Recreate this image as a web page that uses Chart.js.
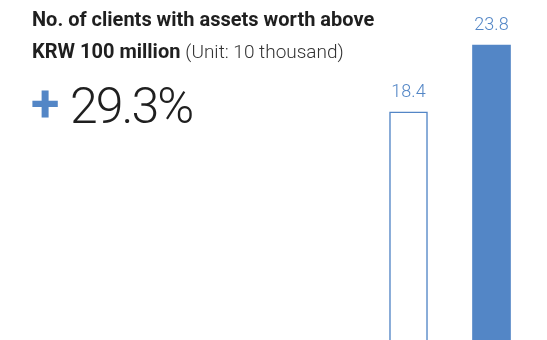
<!DOCTYPE html>
<html>
<head>
<meta charset="utf-8">
<script src="https://cdn.jsdelivr.net/npm/chart.js@4"></script>
<style>
  html, body { margin: 0; padding: 0; background: #fff; }
  #wrap { position: relative; width: 547px; height: 340px; overflow: hidden; }
  #chart { position: absolute; left: 0; top: 0; }
  .title { position: absolute; left: 32px; color: #1f1f1f; font-family: Roboto, sans-serif; font-size: 20px; font-weight: 700; white-space: nowrap; }
  .title .unit { font-weight: 300; font-size: 19px; color: #333; }
  #t1 { top: 7px; }
  #t2 { top: 39px; }
  #plus { position: absolute; left: 31px; top: 78px; line-height: 52px; color: #5386c6; font-family: Roboto, sans-serif; font-weight: 700; font-size: 52px; }
  #pct { position: absolute; left: 70px; top: 77px; color: #1f1f1f; font-family: Roboto, sans-serif; font-weight: 300; font-size: 50px; letter-spacing: -2px; white-space: nowrap; }
</style>
</head>
<body>
<div id="wrap">
  <canvas id="chart" width="547" height="340"></canvas>
  <div class="title" id="t1">No. of clients with assets worth above</div>
  <div class="title" id="t2">KRW 100 million <span class="unit">(Unit: 10 thousand)</span></div>
  <div id="plus">+</div>
  <div id="pct">29.3%</div>
</div>
<script>
// two years, previous vs current
var years = ['Prev', 'Curr'];
var clients = [18.4, 23.8];

var blue = '#5386c6';

// value text above each bar
var valueLabels = {
  id: 'valueLabels',
  afterDatasetsDraw(chart) {
    let ctx = chart.ctx;
    let meta = chart.getDatasetMeta(0);
    ctx.save();
    ctx.fillStyle = blue;
    ctx.font = '300 18px Roboto, sans-serif';
    ctx.textAlign = 'center';
    ctx.textBaseline = 'alphabetic';
    meta.data.forEach((bar, i) => {
      ctx.fillText(clients[i].toFixed(1), bar.x, bar.y - 15);
    });
    ctx.restore();
  }
};

let chart1 = document.getElementById('chart').getContext('2d');
let barChart = new Chart(chart1, {
  type: 'bar',
  data: {
    labels: years,
    datasets: [
      {
        data: clients,
        backgroundColor: ['#ffffff', blue],
        borderColor: [blue, blue],
        borderWidth: [1.5, 0],
        borderSkipped: 'bottom',
        barThickness: 38
      }
    ]
  },
  options: {
    responsive: false,
    animation: false,
    layout: { padding: { left: 367, right: 14, top: 0, bottom: 0 } },
    plugins: { legend: { display: false }, tooltip: { enabled: false } },
    scales: {
      x: { display: false },
      y: { display: false, min: 0, max: 27.43 }
    }
  },
  plugins: [valueLabels]
});
</script>
</body>
</html>
